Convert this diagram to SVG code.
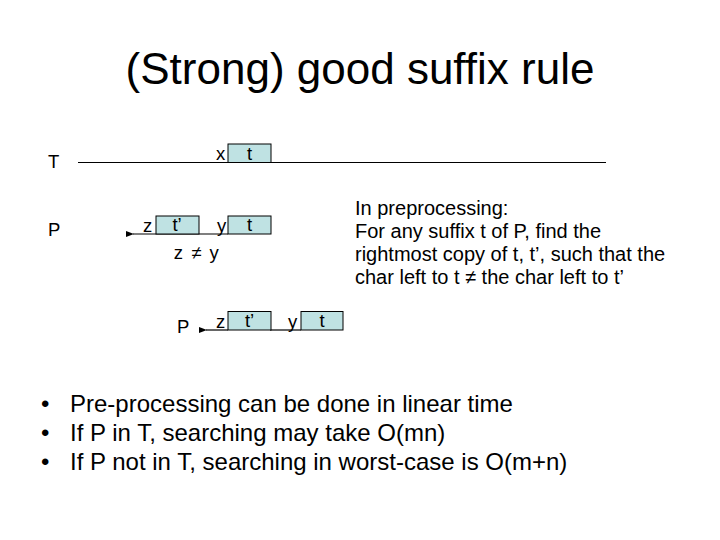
<svg xmlns="http://www.w3.org/2000/svg" width="720" height="540" viewBox="0 0 720 540">
<defs>
<style>
text{font-family:"Liberation Sans",Arial,sans-serif;fill:#000}
.box{fill:#BFE2E3;stroke:#000;stroke-width:1}
.ln{stroke:#000;stroke-width:1.2;fill:none}
.lbl{font-size:18.5px}
.big{font-size:20px}
.bul{font-size:24px}
</style>
<marker id="ah" markerWidth="8" markerHeight="6" refX="1" refY="3" orient="auto-start-reverse" markerUnits="userSpaceOnUse">
<path d="M8,0 L0,3 L8,6 z" fill="#000"/>
</marker>
</defs>
<rect width="720" height="540" fill="#fff"/>
<text x="360" y="84" font-size="44" text-anchor="middle">(Strong) good suffix rule</text>

<g id="connectors">
<line class="ln" x1="78" y1="162.5" x2="606" y2="162.5"/>
<line class="ln" x1="228" y1="234" x2="133" y2="234" marker-end="url(#ah)"/>
<line class="ln" x1="270" y1="330" x2="301" y2="330"/>
<line class="ln" x1="228" y1="330" x2="206" y2="330" marker-end="url(#ah)"/>
</g>

<g id="T-label"><text x="48" y="168" class="lbl">T</text></g>
<g id="P-label"><text x="48" y="236" class="lbl">P</text></g>

<g id="T-t"><rect class="box" x="228" y="144" width="43" height="18.5"/><text x="249.5" y="160" class="lbl" text-anchor="middle">t</text></g>
<g id="T-x"><text x="216" y="160" class="lbl">x</text></g>

<g id="P-tp"><rect class="box" x="156" y="216" width="43" height="18"/><text x="177" y="231" class="lbl" text-anchor="middle">t’</text></g>
<g id="P-t"><rect class="box" x="228" y="216" width="43" height="18"/><text x="249.5" y="231" class="lbl" text-anchor="middle">t</text></g>
<g id="P-z"><text x="143" y="232" class="lbl">z</text></g>
<g id="P-y"><text x="217" y="232" class="lbl">y</text></g>
<g id="zney"><text x="197" y="259" class="lbl" text-anchor="middle" letter-spacing="1.5">z ≠ y</text></g>

<g id="P2-label"><text x="177" y="333" class="lbl">P</text></g>
<g id="P2-z"><text x="216" y="328" class="lbl">z</text></g>
<g id="P2-tp"><rect class="box" x="228" y="311.5" width="43" height="18.5"/><text x="249.5" y="327" class="lbl" text-anchor="middle">t’</text></g>
<g id="P2-y"><text x="288" y="328" class="lbl">y</text></g>
<g id="P2-t"><rect class="box" x="301" y="311.5" width="42" height="18.5"/><text x="322" y="327" class="lbl" text-anchor="middle">t</text></g>

<g id="note">
<text class="big" x="355" y="215">In preprocessing:</text>
<text class="big" x="355" y="238">For any suffix t of P, find the</text>
<text class="big" x="355" y="261">rightmost copy of t, t’, such that the</text>
<text class="big" x="355" y="284">char left to t ≠ the char left to t’</text>
</g>

<g id="bullets">
<text class="bul" x="41" y="412">•</text><text class="bul" x="70" y="412">Pre-processing can be done in linear time</text>
<text class="bul" x="41" y="441">•</text><text class="bul" x="70" y="441">If P in T, searching may take O(mn)</text>
<text class="bul" x="41" y="470">•</text><text class="bul" x="70" y="470">If P not in T, searching in worst-case is O(m+n)</text>
</g>
</svg>
